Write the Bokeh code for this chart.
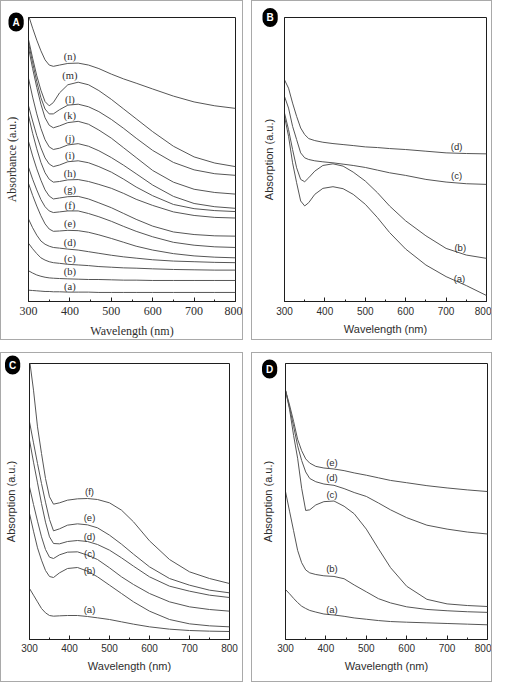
from bokeh.plotting import figure
from bokeh.models import Range1d, FixedTicker, Title
from bokeh.layouts import row, column
from bokeh.embed import file_html
from bokeh.resources import INLINE
from bokeh.core.properties import value

wl = [300, 310, 320, 330, 340, 350, 360, 375, 395, 420, 445, 470, 500, 530, 560, 600, 650, 700, 750, 800]

# ---------------- Panel A (absorbance, a.u.) ----------------
A_n = [8.85, 8.45, 8.08, 7.75, 7.47, 7.31, 7.27, 7.31, 7.36, 7.37, 7.31, 7.20, 7.03, 6.88, 6.75, 6.57, 6.35, 6.17, 6.05, 5.97]
A_m = [8.10, 7.52, 6.98, 6.53, 6.18, 6.05, 6.15, 6.45, 6.70, 6.78, 6.70, 6.52, 6.25, 5.95, 5.65, 5.25, 4.80, 4.47, 4.28, 4.17]
A_l = [8.00, 7.38, 6.80, 6.30, 5.95, 5.80, 5.80, 5.93, 6.07, 6.10, 6.02, 5.87, 5.63, 5.35, 5.05, 4.67, 4.30, 4.07, 3.95, 3.90]
A_k = [7.85, 7.20, 6.62, 6.10, 5.68, 5.45, 5.37, 5.43, 5.53, 5.57, 5.48, 5.30, 5.05, 4.75, 4.45, 4.05, 3.69, 3.47, 3.37, 3.32]
A_j = [6.90, 6.32, 5.80, 5.35, 5.00, 4.78, 4.70, 4.74, 4.84, 4.88, 4.80, 4.66, 4.45, 4.21, 3.95, 3.60, 3.25, 3.03, 2.93, 2.88]
A_i = [6.05, 5.58, 5.13, 4.75, 4.44, 4.25, 4.17, 4.22, 4.32, 4.35, 4.29, 4.17, 4.00, 3.78, 3.54, 3.27, 3.00, 2.87, 2.81, 2.78]
A_h = [5.75, 5.20, 4.72, 4.30, 3.98, 3.78, 3.69, 3.71, 3.76, 3.77, 3.71, 3.62, 3.50, 3.34, 3.16, 2.97, 2.77, 2.66, 2.60, 2.58]
A_g = [4.95, 4.50, 4.10, 3.75, 3.45, 3.26, 3.17, 3.20, 3.24, 3.25, 3.17, 3.05, 2.90, 2.72, 2.54, 2.33, 2.15, 2.07, 2.03, 2.02]
A_f = [4.15, 3.78, 3.45, 3.15, 2.93, 2.80, 2.75, 2.77, 2.80, 2.80, 2.72, 2.62, 2.48, 2.32, 2.17, 2.00, 1.83, 1.74, 1.69, 1.67]
A_e = [3.65, 3.28, 2.95, 2.65, 2.40, 2.24, 2.17, 2.18, 2.20, 2.19, 2.14, 2.06, 1.95, 1.83, 1.71, 1.59, 1.48, 1.41, 1.37, 1.35]
A_d = [2.55, 2.28, 2.05, 1.87, 1.77, 1.71, 1.67, 1.65, 1.62, 1.59, 1.54, 1.49, 1.43, 1.38, 1.34, 1.29, 1.25, 1.23, 1.21, 1.20]
A_c = [1.80, 1.63, 1.48, 1.35, 1.28, 1.23, 1.20, 1.18, 1.15, 1.13, 1.11, 1.08, 1.06, 1.04, 1.03, 1.01, 0.99, 0.98, 0.97, 0.97]
A_b = [0.95, 0.88, 0.82, 0.78, 0.75, 0.73, 0.72, 0.71, 0.70, 0.69, 0.68, 0.68, 0.67, 0.66, 0.66, 0.65, 0.65, 0.65, 0.65, 0.65]
A_a = [0.35, 0.34, 0.33, 0.32, 0.31, 0.31, 0.30, 0.30, 0.29, 0.29, 0.29, 0.28, 0.28, 0.28, 0.28, 0.28, 0.28, 0.28, 0.28, 0.28]
A_names = ["(n)", "(m)", "(l)", "(k)", "(j)", "(i)", "(h)", "(g)", "(f)", "(e)", "(d)", "(c)", "(b)", "(a)"]
A_lab_x = [400] * 14
A_lab_y = [7.57, 7.00, 6.23, 5.75, 5.05, 4.50, 3.95, 3.47, 2.97, 2.42, 1.83, 1.33, 0.93, 0.45]

# ---------------- Panel B ----------------
B_d = [6.68, 6.43, 5.98, 5.58, 5.23, 5.03, 4.91, 4.85, 4.80, 4.76, 4.73, 4.70, 4.66, 4.64, 4.61, 4.58, 4.53, 4.48, 4.46, 4.45]
B_c = [6.18, 5.83, 5.28, 4.88, 4.48, 4.33, 4.28, 4.24, 4.21, 4.18, 4.14, 4.10, 4.04, 3.96, 3.88, 3.80, 3.68, 3.60, 3.55, 3.53]
B_b = [5.68, 5.18, 4.58, 4.03, 3.68, 3.61, 3.73, 3.93, 4.10, 4.15, 4.08, 3.90, 3.63, 3.28, 2.88, 2.43, 1.98, 1.60, 1.40, 1.30]
B_a = [5.58, 4.98, 4.18, 3.58, 3.03, 2.88, 2.98, 3.23, 3.41, 3.46, 3.40, 3.23, 2.93, 2.53, 2.08, 1.58, 1.10, 0.75, 0.48, 0.18]
B_names = ["(d)", "(c)", "(b)", "(a)"]
B_lab_x = [726, 726, 735, 733]
B_lab_y = [4.66, 3.80, 1.63, 0.68]

# ---------------- Panel C ----------------
C_f = [8.40, 7.48, 6.38, 5.58, 4.83, 4.28, 4.06, 4.10, 4.18, 4.22, 4.23, 4.20, 4.10, 3.88, 3.53, 2.96, 2.40, 2.03, 1.83, 1.68]
C_e = [6.53, 5.90, 5.28, 4.68, 4.12, 3.60, 3.26, 3.32, 3.43, 3.47, 3.44, 3.35, 3.13, 2.86, 2.56, 2.18, 1.83, 1.63, 1.48, 1.40]
C_d = [5.98, 5.32, 4.70, 4.08, 3.52, 3.08, 2.88, 2.87, 2.94, 2.97, 2.94, 2.85, 2.68, 2.45, 2.20, 1.88, 1.60, 1.45, 1.33, 1.26]
C_c = [4.58, 4.05, 3.55, 3.08, 2.70, 2.47, 2.43, 2.54, 2.62, 2.63, 2.53, 2.40, 2.15, 1.88, 1.65, 1.38, 1.13, 0.98, 0.90, 0.85]
C_b = [3.78, 3.25, 2.75, 2.38, 2.07, 1.89, 1.86, 2.00, 2.13, 2.16, 2.05, 1.88, 1.63, 1.38, 1.13, 0.85, 0.60, 0.47, 0.41, 0.38]
C_a = [1.53, 1.33, 1.13, 0.93, 0.80, 0.72, 0.70, 0.71, 0.72, 0.72, 0.69, 0.65, 0.60, 0.53, 0.46, 0.38, 0.31, 0.27, 0.25, 0.24]
C_names = ["(f)", "(e)", "(d)", "(c)", "(b)", "(a)"]
C_lab_x = [450] * 6
C_lab_y = [4.43, 3.65, 3.10, 2.58, 2.08, 0.90]

# ---------------- Panel D ----------------
D_e = [7.63, 7.18, 6.68, 6.13, 5.78, 5.53, 5.40, 5.30, 5.25, 5.22, 5.17, 5.10, 5.03, 4.95, 4.87, 4.80, 4.71, 4.64, 4.58, 4.53]
D_d = [7.63, 7.10, 6.53, 5.93, 5.48, 5.13, 4.93, 4.83, 4.76, 4.72, 4.62, 4.50, 4.38, 4.18, 3.97, 3.73, 3.50, 3.38, 3.29, 3.23]
D_c = [7.63, 7.05, 6.25, 5.55, 4.63, 3.95, 3.97, 4.12, 4.22, 4.24, 4.08, 3.85, 3.38, 2.78, 2.20, 1.63, 1.23, 1.09, 1.04, 1.01]
D_b = [4.53, 3.93, 3.33, 2.73, 2.35, 2.13, 2.04, 1.99, 1.95, 1.93, 1.86, 1.67, 1.46, 1.25, 1.12, 1.00, 0.92, 0.88, 0.85, 0.83]
D_a = [1.53, 1.40, 1.26, 1.13, 1.02, 0.95, 0.89, 0.84, 0.78, 0.75, 0.71, 0.66, 0.62, 0.58, 0.55, 0.53, 0.51, 0.49, 0.47, 0.45]
D_names = ["(e)", "(d)", "(c)", "(b)", "(a)"]
D_lab_x = [415] * 5
D_lab_y = [5.43, 4.96, 4.43, 2.18, 0.93]

x_ticks = [300, 400, 500, 600, 700, 800]
x_minor = [350, 450, 550, 650, 750]

LINE = "#565656"
TEXT = "#2e2e2e"
FRAME = "#1e1e1e"


def make_panel(letter, w, h, borders, ymax, curves, lab_x, lab_y, names,
               serif, ylabel, tick_fs, axlab_fs, curve_fs, std, badge):
    font = "Liberation Serif" if serif else "Liberation Sans"
    p = figure(width=w, height=h, x_range=Range1d(300, 800), y_range=Range1d(0, ymax),
               output_backend="svg", toolbar_location=None,
               min_border_left=borders[0], min_border_right=borders[1],
               min_border_top=borders[2], min_border_bottom=borders[3])
    p.styles = {"border": "1px solid #a9a9a9", "box-sizing": "border-box"}
    p.background_fill_color = "white"
    p.border_fill_color = "white"
    p.xgrid.visible = False
    p.ygrid.visible = False
    p.outline_line_color = FRAME
    p.outline_line_width = 1
    p.outline_line_alpha = 1

    xa = p.xaxis[0]
    xa.ticker = FixedTicker(ticks=x_ticks, minor_ticks=x_minor)
    xa.axis_line_color = FRAME
    xa.major_tick_line_color = FRAME
    xa.minor_tick_line_color = FRAME
    xa.major_tick_in = 4
    xa.major_tick_out = 0
    xa.minor_tick_in = 2
    xa.minor_tick_out = 0
    xa.major_label_text_font = font
    xa.major_label_text_font_size = tick_fs
    xa.major_label_text_color = TEXT
    xa.major_label_standoff = std[0]
    xa.axis_label = "Wavelength (nm)"
    xa.axis_label_text_font = font
    xa.axis_label_text_font_size = axlab_fs
    xa.axis_label_text_font_style = "normal"
    xa.axis_label_text_color = TEXT
    xa.axis_label_standoff = std[1]

    ya = p.yaxis[0]
    ya.ticker = FixedTicker(ticks=[])
    ya.axis_line_color = FRAME
    ya.major_tick_line_color = None
    ya.minor_tick_line_color = None
    ya.major_label_standoff = 0
    ya.axis_label = ylabel
    ya.axis_label_text_font = font
    ya.axis_label_text_font_size = axlab_fs
    ya.axis_label_text_font_style = "normal"
    ya.axis_label_text_color = TEXT
    ya.axis_label_standoff = std[2]

    for ys in curves:
        p.line(wl, ys, line_color=LINE, line_width=1)

    p.text(x=lab_x, y=lab_y, text=names, text_font=value(font), text_font_size=curve_fs,
           text_color=TEXT, text_align="center", text_baseline="middle")

    # panel letter badge (black rounded disc with white letter), outside the frame
    p.add_layout(Title(text=letter, align="left", vertical_align=badge[2],
                       offset=badge[0], standoff=badge[1],
                       text_color="white", text_font="Liberation Sans",
                       text_font_style="bold", text_font_size="10px",
                       background_fill_color="black", padding=4, border_radius=10), "above")
    return p


pA = make_panel("A", 243, 340, (24, 9, 8, 40), 8.78,
                [A_n, A_m, A_l, A_k, A_j, A_i, A_h, A_g, A_f, A_e, A_d, A_c, A_b, A_a],
                A_lab_x, A_lab_y, A_names, True, "Absorbance (a.u.)",
                "12px", "12px", "10.5px", (5, 6, 10), (-20, -28, "bottom"))
pB = make_panel("B", 241, 340, (32, 7, 16, 39), 8.56,
                [B_d, B_c, B_b, B_a], B_lab_x, B_lab_y, B_names, False, "Absorption (a.u.)",
                "10px", "11px", "9.5px", (5, 5, 10), (-22, -26, "middle"))
pC = make_panel("C", 243, 330, (28, 15, 10, 44), 8.28,
                [C_f, C_e, C_d, C_c, C_b, C_a], C_lab_x, C_lab_y, C_names, False, "Absorption (a.u.)",
                "10px", "11px", "9.5px", (4, 5, 13), (-24.5, -22, "bottom"))
pD = make_panel("D", 241, 330, (33, 6, 6, 42), 8.45,
                [D_e, D_d, D_c, D_b, D_a], D_lab_x, D_lab_y, D_names, False, "Absorption (a.u.)",
                "10px", "11px", "9.5px", (4, 5, 12), (-23.5, -30, "bottom"))

layout = column(row(pA, pB, spacing=8), row(pC, pD, spacing=8), spacing=12)

open("out.html", "w").write(file_html(layout, INLINE))
